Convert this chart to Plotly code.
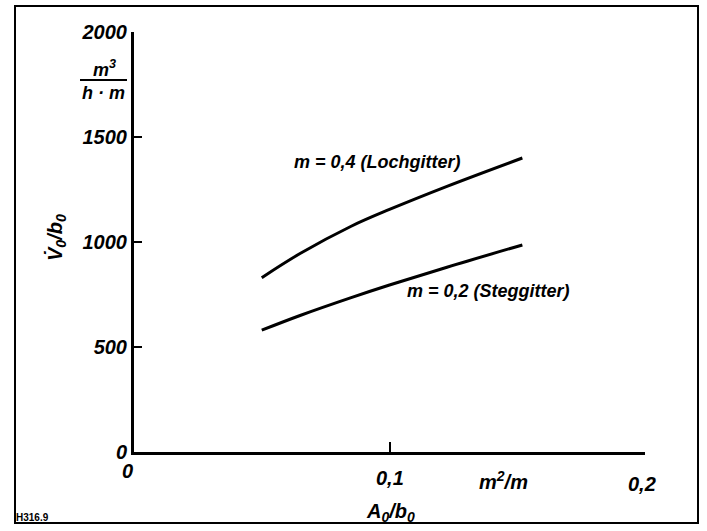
import plotly.graph_objects as go

# ---- data ----
x_vals = [0.05, 0.065, 0.085, 0.1, 0.1225, 0.152]
lochgitter = [830, 945, 1075, 1155, 1265, 1400]
steggitter = [580, 650, 735, 795, 880, 986]

y_tick_vals = [0, 500, 1000, 1500, 2000]
y_tick_text = ["0", "500", "1000", "1500", "2000"]
x_tick_vals = [0, 0.1, 0.2]
x_tick_text = ["0", "0,1", "0,2"]

label_loch = "m = 0,4 (Lochgitter)"
label_steg = "m = 0,2 (Steggitter)"

FONT = "Liberation Sans"
W, H = 707, 531
L, R, T, B = 134, 62, 32, 79
PW, PH = W - L - R, H - T - B


def px(xp):
    return (xp - L) / PW


def py(yp):
    return (H - B - yp) / PH


tf = dict(family=FONT, size=20, color="black", weight="bold", style="italic")
lf = dict(family=FONT, size=18, color="black", weight="bold", style="italic")

fig = go.Figure()
fig.add_trace(go.Scatter(x=x_vals, y=lochgitter, mode="lines", line=dict(color="black", width=3, shape="spline"), hoverinfo="skip"))
fig.add_trace(go.Scatter(x=x_vals, y=steggitter, mode="lines", line=dict(color="black", width=3, shape="spline"), hoverinfo="skip"))

fig.update_layout(
    width=W, height=H, margin=dict(l=L, r=R, t=T, b=B),
    paper_bgcolor="white", plot_bgcolor="white", showlegend=False,
    xaxis=dict(range=[0, 0.2], showgrid=False, zeroline=False, showline=True, linecolor="black", linewidth=3,
               tickvals=x_tick_vals[1:], ticks="inside", ticklen=10, tickwidth=2, tickcolor="black",
               showticklabels=False),
    yaxis=dict(range=[0, 2000], showgrid=False, zeroline=False, showline=True, linecolor="black", linewidth=3,
               tickvals=y_tick_vals, ticktext=y_tick_text, ticks="inside", ticklen=8, tickwidth=2,
               tickcolor="black", tickfont=tf),
)

# x tick labels
x_offsets = [(-7, -19), (0, -26), (-3, -32)]
for v, t, (dx, dy) in zip(x_tick_vals, x_tick_text, x_offsets):
    fig.add_annotation(x=v, y=0, xref="x", yref="paper", text=t, showarrow=False, font=tf,
                       xanchor="center", yanchor="middle", xshift=dx, yshift=dy)

# curve labels
fig.add_annotation(x=0.0618, y=1381, xref="x", yref="y", text=label_loch, showarrow=False, font=lf,
                   xanchor="left", yanchor="middle")
fig.add_annotation(x=0.106, y=767, xref="x", yref="y", text=label_steg, showarrow=False, font=lf,
                   xanchor="left", yanchor="middle")


def note(xp, yp, text, font, **kw):
    fig.add_annotation(x=px(xp), y=py(yp), xref="paper", yref="paper", text=text, showarrow=False,
                       font=font, xanchor="center", yanchor="middle", **kw)


# axis titles and units
note(56, 238, "V\u0307<sub>0</sub>/b<sub>0</sub>", tf, textangle=-90)
note(104, 68, "m<sup>3</sup>", lf)
note(103, 93, "h · m", lf)
fig.add_shape(type="line", xref="paper", yref="paper", x0=px(80), x1=px(127), y0=py(80), y1=py(80),
              line=dict(color="black", width=2))
note(390, 512, "A<sub>0</sub>/b<sub>0</sub>", tf)
note(503, 480, "m<sup>2</sup>/m", tf)
note(32, 517, "H316.9", dict(family=FONT, size=10, color="black", weight="bold"))

# frame
fig.add_shape(type="rect", xref="paper", yref="paper", x0=px(15), x1=px(698), y0=py(523), y1=py(6),
              line=dict(color="black", width=2))

fig.write_html("out.html")
